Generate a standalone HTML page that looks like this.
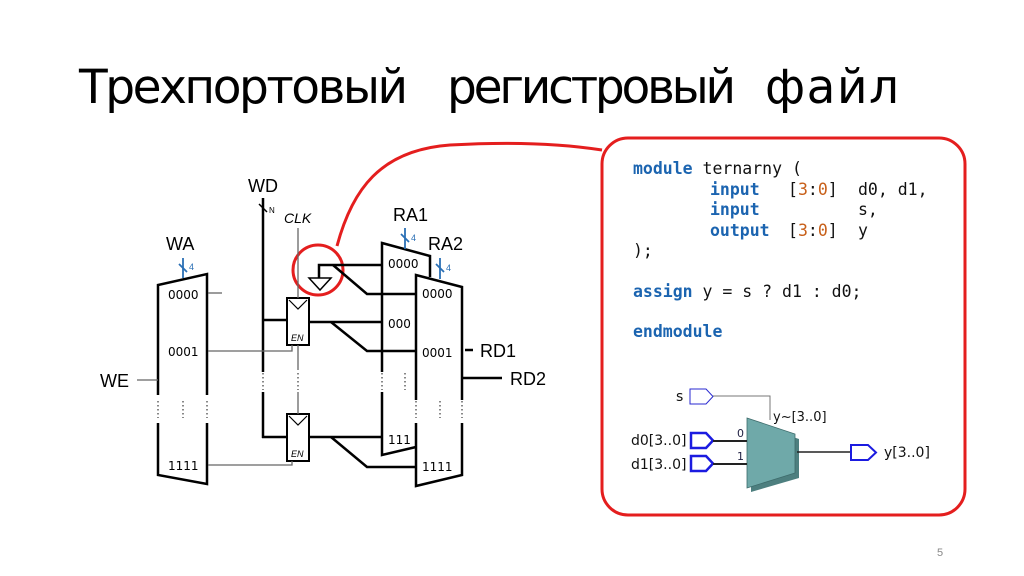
<!DOCTYPE html>
<html><head><meta charset="utf-8"><style>
html,body{margin:0;padding:0;background:#fff;}
svg{display:block}
</style></head><body>
<svg width="1024" height="576" viewBox="0 0 1024 576" xmlns="http://www.w3.org/2000/svg">
<g font-family="DejaVu Sans, sans-serif" font-size="47" fill="#000">
<text x="79" y="103" textLength="329" lengthAdjust="spacing">Трехпортовый</text>
<text x="447" y="103" textLength="289" lengthAdjust="spacing">регистровый</text>
<text x="765" y="103" textLength="134" lengthAdjust="spacing">файл</text>
</g>

<rect x="602" y="138" width="363" height="377" rx="26" fill="#fff" stroke="#e41e1e" stroke-width="3"/>
<path d="M337 246 C 352 190, 380 150, 450 145 C 520 141, 570 145, 602 150" fill="none" stroke="#e41e1e" stroke-width="3"/>
<circle cx="318" cy="270" r="25" fill="none" stroke="#e41e1e" stroke-width="3"/>

<g font-family="DejaVu Sans Mono, monospace" font-size="16.5" fill="#111">
<text x="633" y="174"><tspan fill="#1b64b0" font-weight="bold">module</tspan> ternarny (</text>
<text x="710" y="195" fill="#1b64b0" font-weight="bold">input</text>
<text x="788" y="195">[<tspan fill="#c8601a">3</tspan>:<tspan fill="#c8601a">0</tspan>]</text>
<text x="858" y="195">d0, d1,</text>
<text x="710" y="215" fill="#1b64b0" font-weight="bold">input</text>
<text x="858" y="215">s,</text>
<text x="710" y="236" fill="#1b64b0" font-weight="bold">output</text>
<text x="788" y="236">[<tspan fill="#c8601a">3</tspan>:<tspan fill="#c8601a">0</tspan>]</text>
<text x="858" y="236">y</text>
<text x="633" y="256">);</text>
<text x="633" y="297"><tspan fill="#1b64b0" font-weight="bold">assign</tspan> y = s ? d1 : d0;</text>
<text x="633" y="337" fill="#1b64b0" font-weight="bold">endmodule</text>
</g>

<g font-family="DejaVu Sans, sans-serif" font-size="14" fill="#111">
<text x="676" y="401">s</text>
<polygon points="690,389 706,389 713,396.5 706,404 690,404" fill="#fff" stroke="#2a2ad0" stroke-width="1"/>
<polyline points="713,396 770,396 770,420" fill="none" stroke="#777" stroke-width="1"/>
<polygon points="751,423 799,439 799,478 751,492" fill="#4d7f7f"/>
<polygon points="747,418 795,434 795,473 747,488" fill="#6fa9a9" stroke="#3d6b6b" stroke-width="0.8"/>
<text x="773" y="421" font-size="13">y~[3..0]</text>
<polygon points="691,433 706,433 713,440.5 706,448 691,448" fill="#fff" stroke="#1b1be0" stroke-width="2.5"/>
<line x1="713" y1="441" x2="747" y2="441" stroke="#222" stroke-width="2"/>
<polygon points="691,456 706,456 713,463.5 706,471 691,471" fill="#fff" stroke="#1b1be0" stroke-width="2.5"/>
<line x1="713" y1="464" x2="747" y2="464" stroke="#222" stroke-width="2"/>
<text x="737" y="437" font-size="11" fill="#224">0</text>
<text x="737" y="460" font-size="11" fill="#224">1</text>
<text x="631" y="445">d0[3..0]</text>
<text x="631" y="469">d1[3..0]</text>
<line x1="797" y1="452" x2="851" y2="452" stroke="#222" stroke-width="1.5"/>
<polygon points="851,445 868,445 876,452.5 868,460 851,460" fill="#fff" stroke="#1b1be0" stroke-width="2"/>
<text x="884" y="457">y[3..0]</text>
</g>

<g stroke="#000" fill="none" stroke-width="2.5" stroke-linejoin="miter">
<polyline points="158,395 158,285 207,274 207,395"/>
<polyline points="158,423 158,475 207,484 207,423"/>
<polyline points="382,372 382,243 430,256 430,277"/>
<polyline points="382,392 382,455 416,447"/>
<polyline points="416,400 416,275 462,287 462,400"/>
<polyline points="416,423 416,486 462,475 462,423"/>
<line x1="263" y1="198" x2="263" y2="372"/>
<line x1="263" y1="392" x2="263" y2="438"/>
<line x1="263" y1="320" x2="287" y2="320"/>
<line x1="262" y1="437" x2="287" y2="437"/>
<rect x="287" y="298" width="22" height="47" stroke-width="2"/>
<rect x="287" y="414" width="22" height="47" stroke-width="2"/>
<line x1="309" y1="322" x2="382" y2="322"/>
<polyline points="331,322 367,351 416,351"/>
<line x1="309" y1="437" x2="382" y2="437"/>
<polyline points="331,437 367,467 416,467"/>
<polyline points="319,278 319,265 382,265"/>
<polyline points="333,265 367,294 416,294"/>
<line x1="465" y1="350" x2="473" y2="350"/>
<line x1="462" y1="378" x2="502" y2="378"/>
</g>
<g stroke="#000" fill="none">
<polygon points="309,278 331,278 320,290" stroke-width="1.5"/>
<polyline points="289,300 298,309 307,300" stroke-width="1.2"/>
<polyline points="289,416 298,425 307,416" stroke-width="1.2"/>
</g>
<g stroke="#666" fill="none" stroke-width="1.3">
<line x1="137" y1="380" x2="158" y2="380"/>
<line x1="208" y1="293" x2="222" y2="293"/>
<polyline points="208,351 292,351 292,345"/>
<polyline points="208,465 292,465 292,461"/>
<line x1="298" y1="228" x2="298" y2="298"/>
<line x1="298" y1="345" x2="298" y2="370"/>
<line x1="298" y1="392" x2="298" y2="414"/>
</g>
<g stroke="#888" stroke-width="2" stroke-dasharray="1.5 2.5">
<line x1="158" y1="401" x2="158" y2="418"/><line x1="183" y1="401" x2="183" y2="418"/><line x1="207" y1="401" x2="207" y2="418"/>
<line x1="263" y1="373" x2="263" y2="390"/><line x1="298" y1="373" x2="298" y2="390"/>
<line x1="382" y1="373" x2="382" y2="390"/><line x1="405" y1="373" x2="405" y2="390"/>
<line x1="416" y1="401" x2="416" y2="418"/><line x1="440" y1="401" x2="440" y2="418"/><line x1="462" y1="401" x2="462" y2="418"/>
</g>
<g stroke="#2a6fb5" stroke-width="1.8">
<line x1="183" y1="258" x2="183" y2="278"/><line x1="179" y1="264" x2="187" y2="272"/>
<line x1="405" y1="228" x2="405" y2="249"/><line x1="401" y1="234" x2="409" y2="242"/>
<line x1="440" y1="258" x2="440" y2="279"/><line x1="436" y1="264" x2="444" y2="272"/>
</g>
<g stroke="#000" stroke-width="1.5"><line x1="259" y1="204" x2="267" y2="212"/></g>
<g font-family="Liberation Sans, sans-serif" fill="#000">
<text x="189" y="270" font-size="9" fill="#2a6fb5">4</text>
<text x="411" y="241" font-size="9" fill="#2a6fb5">4</text>
<text x="446" y="271" font-size="9" fill="#2a6fb5">4</text>
<text x="269" y="213" font-size="8">N</text>
<text x="166" y="250" font-size="18">WA</text>
<text x="248" y="192" font-size="18">WD</text>
<text x="393" y="221" font-size="18">RA1</text>
<text x="428" y="250" font-size="18">RA2</text>
<text x="100" y="387" font-size="18">WE</text>
<text x="480" y="357" font-size="18">RD1</text>
<text x="510" y="385" font-size="18">RD2</text>
<text x="284" y="223" font-size="14" font-style="italic">CLK</text>
<text x="291" y="341" font-size="9" font-style="italic">EN</text>
<text x="291" y="457" font-size="9" font-style="italic">EN</text>
<g font-family="DejaVu Sans, sans-serif" font-size="12">
<text x="168" y="299">0000</text><text x="168" y="356">0001</text><text x="168" y="470">1111</text>
<text x="388" y="268">0000</text><text x="388" y="328">000</text><text x="388" y="444">111</text>
<text x="422" y="298">0000</text><text x="422" y="357">0001</text><text x="422" y="471">1111</text>
</g>
<text x="937" y="556" font-size="11" fill="#888">5</text>
</g>
</svg>
</body></html>
